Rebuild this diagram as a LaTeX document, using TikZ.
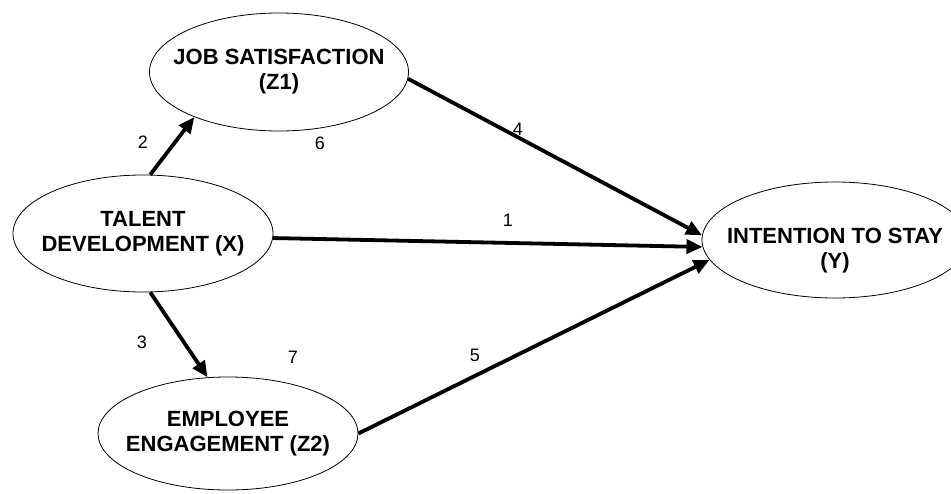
\documentclass[tikz,border=0pt]{standalone}
\usepackage{fontspec}
\setmainfont{Liberation Sans}
\usetikzlibrary{arrows.meta, shapes.geometric}

\begin{document}
\begin{tikzpicture}[
  x=1pt, y=-1pt,
  construct/.style={ellipse, draw, line width=0.8pt, inner xsep=-30pt, inner ysep=0pt,
    align=center, font=\fontsize{22}{25}\selectfont\bfseries},
  path/.style={-{Triangle[length=16pt, width=14pt]}, line width=3.8pt},
  coef/.style={font=\fontsize{18}{20}\selectfont},
]
  \useasboundingbox (0,0) rectangle (951,493);
  % Constructs
  \node[construct, minimum width=259pt, minimum height=118pt] (Z1) at (279,72)  {JOB SATISFACTION\\(Z1)};
  \node[construct, minimum width=260pt, minimum height=117pt] (X)  at (143,233.5) {TALENT\\DEVELOPMENT (X)};
  \node[construct, minimum width=260pt, minimum height=113pt] (Z2) at (228,433.5) {EMPLOYEE\\ENGAGEMENT (Z2)};
  \node[construct, minimum width=266pt, minimum height=116pt] (Y)  at (835,240) {\rule{0pt}{36pt}INTENTION TO STAY\\(Y)};
  % Paths
  \draw[path] (X.83)  -- (Z1.208);
  \draw[path] (X.-83) -- (Z2.110);
  \draw[path] (Z1.-3) -- (Y.178);
  \draw[path] (X.-2)  -- (Y.183);
  \draw[path] (Z2.0)  -- (Y.189);
  % Path numbers
  \node[coef] (n1) at (508,220) {1};
  \node[coef] (n2) at (143,142) {2};
  \node[coef] (n3) at (142,342) {3};
  \node[coef] (n4) at (518,129) {4};
  \node[coef] (n5) at (475,355) {5};
  \node[coef] (n6) at (320,143) {6};
  \node[coef] (n7) at (293,357) {7};
\end{tikzpicture}
\end{document}
